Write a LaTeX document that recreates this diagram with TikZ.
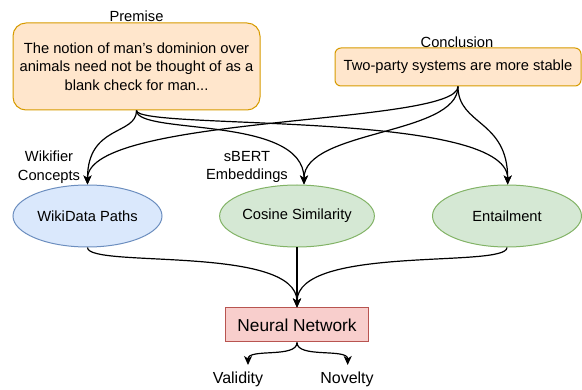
\documentclass[tikz,border=0pt]{standalone}
\usepackage{fontspec}
\setmainfont{Liberation Sans}
\usetikzlibrary{arrows.meta, positioning, shapes.geometric, calc}
\definecolor{dioorange}{HTML}{D79B00}
\definecolor{diolightorange}{HTML}{FFE6CC}
\definecolor{dioblue}{HTML}{6C8EBF}
\definecolor{diolightblue}{HTML}{DAE8FC}
\definecolor{diogreen}{HTML}{82B366}
\definecolor{diolightgreen}{HTML}{D5E8D4}
\definecolor{diored}{HTML}{B85450}
\definecolor{diolightred}{HTML}{F8CECC}

\begin{document}
\begin{tikzpicture}[x=1pt, y=-1pt,
    every node/.style={font=\fontsize{14.7}{18.5}\selectfont},
    stmt/.style={draw=dioorange, fill=diolightorange, line width=1pt, align=center},
    feat/.style={ellipse, line width=1pt, minimum width=149pt, minimum height=62pt, inner sep=0pt},
    outlbl/.style={font=\fontsize{16}{19}\selectfont, inner sep=1pt},
    link/.style={-{Stealth[length=9pt, width=8pt, inset=2.5pt]}, line width=1.2pt}]
  \useasboundingbox (0,0) rectangle (582,390);
  % Premise and conclusion
  \node[stmt, rounded corners=13pt, minimum width=247pt, minimum height=87pt] (prem) at (136.5,66.5)
    {The notion of man's dominion over\\animals need not be thought of as a\\blank check for man...};
  \node (premlbl) at (136.5,16) {Premise};
  \node[stmt, rounded corners=6pt, minimum width=246pt, minimum height=38pt] (concl) at (458,67)
    {Two-party systems are more stable};
  \node (concllbl) at (457,42) {Conclusion};
  % Features
  \node[feat, draw=dioblue, fill=diolightblue] (wiki) at (87.5,216) {WikiData Paths};
  \node[feat, draw=diogreen, fill=diolightgreen] (cos) at (297,216) {Cosine Similarity};
  \node[feat, draw=diogreen, fill=diolightgreen] (ent) at (507,216) {Entailment};
  \node[align=center] (wikilbl) at (49,167) {Wikifier\\Concepts};
  \node[align=center] (sbertlbl) at (247,167) {sBERT\\Embeddings};
  % Classifier and outputs
  \node[draw=diored, fill=diolightred, line width=1pt, minimum width=143pt, minimum height=34pt,
    font=\fontsize{17.3}{20}\selectfont] (nn) at (297,325) {Neural Network};
  \node[outlbl] (val) at (238,379) {Validity};
  \node[outlbl] (nov) at (347,379) {Novelty};
  \coordinate (valtip) at (248,365);
  \coordinate (novtip) at (347.7,365);
  % Edges into the features
  \draw[link] (prem.south) .. controls +(0,25) and +(0,-60) .. (wiki.north);
  \draw[link] (prem.south) .. controls +(0,25) and +(0,-70) .. ([xshift=7pt]cos.north);
  \draw[link] (prem.south) .. controls +(0,20) and +(0,-75) .. ([xshift=0.7pt]ent.north);
  \draw[link] (concl.south) .. controls +(0,39) and +(0,-70) .. (wiki.north);
  \draw[link] (concl.south) .. controls +(0,49) and +(0,-55) .. ([xshift=7pt]cos.north);
  \draw[link] (concl.south) .. controls +(0,39) and +(0,-65) .. ([xshift=0.7pt]ent.north);
  % Edges into the network
  \draw[link] (wiki.south) .. controls +(0,21) and +(0,-63) .. (nn.north);
  \draw[link] (cos.south) -- (nn.north);
  \draw[link] (ent.south) .. controls +(0,21) and +(0,-63) .. (nn.north);
  % Outputs
  \draw[link] (nn.south) .. controls +(0,16) and +(0,-17) .. (valtip);
  \draw[link] (nn.south) .. controls +(0,16) and +(0,-17) .. (novtip);
\end{tikzpicture}
\end{document}
